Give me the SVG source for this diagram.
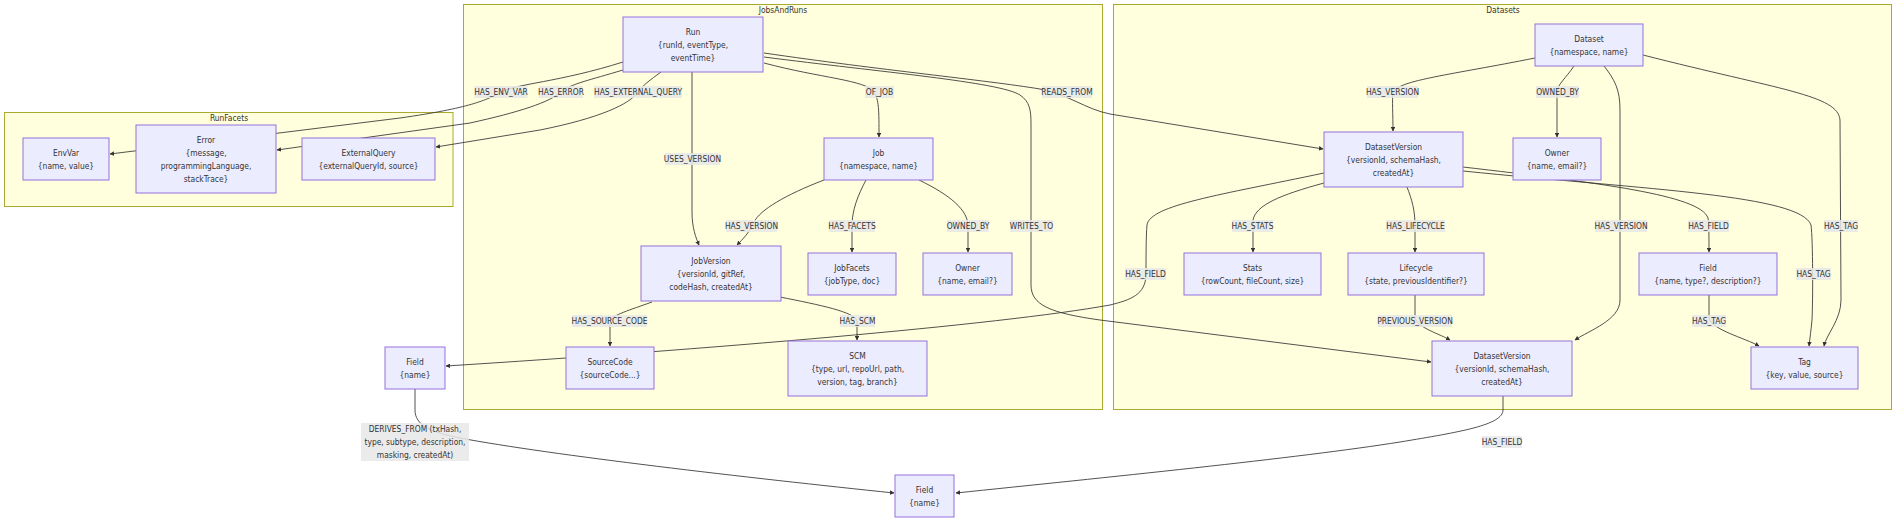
<svg xmlns="http://www.w3.org/2000/svg" width="1904" height="524" viewBox="0 0 1904 524">
<style>
text{font-family:'DejaVu Sans Condensed','DejaVu Sans',sans-serif;font-stretch:condensed;font-size:8.4px;fill:#333;text-anchor:middle;dominant-baseline:central}
.cluster rect{fill:#ffffde;stroke:#aaaa33;stroke-width:1}
.node rect{fill:#ececff;stroke:#9370db;stroke-width:1}
.edge{fill:none;stroke:#333;stroke-width:0.85;marker-end:url(#arr)}
.lbl rect{fill:#e8e8e8;opacity:0.85}
</style>
<defs>
<marker id="arr" viewBox="0 0 10 10" refX="9" refY="5" markerWidth="4.5" markerHeight="4.5" markerUnits="userSpaceOnUse" orient="auto"><path d="M0,0 L10,5 L0,10 z" fill="#333"/></marker>
</defs>
<rect width="1904" height="524" fill="#fff"/>
<g id="clusters">
<g id="c-runfacets" class="cluster"><rect x="4.5" y="112.5" width="448.5" height="94"/><text x="229" y="118">RunFacets</text></g>
<g id="c-jobsandruns" class="cluster"><rect x="463.5" y="4.5" width="639" height="405"/><text x="783" y="10">JobsAndRuns</text></g>
<g id="c-datasets" class="cluster"><rect x="1113.5" y="4.5" width="778" height="405"/><text x="1503" y="10">Datasets</text></g>
</g>
<g id="connectors">
<path class="edge" d="M623,62 C560,82 515,84 501,92 S470,108 400,118 L110,154"/>
<path class="edge" d="M623,70 C590,80 570,84 561,92 C550,102 520,112 470,123 L277,150"/>
<path class="edge" d="M661,72 C650,80 642,86 638,92 C630,104 600,118 540,130 L436,147"/>
<path class="edge" d="M764,63 C820,78 866,80 874,92 C879,100 879,110 879,137"/>
<path class="edge" d="M692,72 L692,212 C692,228 696,238 699,245"/>
<path class="edge" d="M764,53 C880,70 985,80 1040,89 C1070,95 1085,109 1110,114 L1323,149"/>
<path class="edge" d="M764,57 C880,72 1000,82 1020,95 C1030,102 1031,110 1031,125 L1031,285 C1031,305 1050,313 1100,320 L1431,362"/>
<path class="edge" d="M824,180 C785,195 760,210 754,222 C750,232 742,240 737,245"/>
<path class="edge" d="M866,180 C858,195 852,210 852,226 L852,252"/>
<path class="edge" d="M919,180 C950,195 968,210 968,226 L968,252"/>
<path class="edge" d="M652,302 C630,310 612,315 610,321 L610,346"/>
<path class="edge" d="M780,297 C820,305 855,312 857,321 L857,340"/>
<path class="edge" d="M1324,173 C1220,195 1150,205 1147,225 C1146,235 1146,260 1146,274 C1146,295 1130,300 1110,305 C1000,325 700,350 446,366"/>
<path class="edge" d="M1324,183 C1280,195 1256,205 1253,220 L1253,252"/>
<path class="edge" d="M1407,187 C1412,200 1415,210 1415,226 L1415,252"/>
<path class="edge" d="M1463,167 C1600,183 1700,195 1708,218 C1709,222 1709,240 1709,252"/>
<path class="edge" d="M1463,171 C1650,190 1800,195 1811,225 C1813,240 1813,300 1812,320 C1811,330 1810,338 1809,346"/>
<path class="edge" d="M1535,58 C1450,75 1400,80 1393,92 C1392,100 1393,115 1393,131"/>
<path class="edge" d="M1574,66 C1566,78 1557,85 1557,92 L1557,137"/>
<path class="edge" d="M1604,66 C1615,80 1620,90 1620,110 L1620,300 C1620,320 1590,330 1575,340"/>
<path class="edge" d="M1643,55 C1780,90 1838,95 1840,120 L1841,300 C1841,320 1826,335 1824,346"/>
<path class="edge" d="M1709,295 L1709,318 C1712,330 1745,338 1759,346"/>
<path class="edge" d="M1415,295 L1415,318 C1418,328 1440,334 1450,340"/>
<path class="edge" d="M1503,396 L1503,410 C1503,425 1460,432 1400,442 C1300,458 1100,478 956,493"/>
<path class="edge" d="M415,389 L415,410 C415,425 430,432 460,438 C550,455 750,478 894,493"/>
</g>
<g id="edge-labels">
<g class="lbl"><rect x="474.5" y="86" width="53" height="12"/><text x="501" y="92">HAS_ENV_VAR</text></g>
<g class="lbl"><rect x="539" y="86" width="44" height="12"/><text x="561" y="92">HAS_ERROR</text></g>
<g class="lbl"><rect x="594" y="86" width="88" height="12"/><text x="638" y="92">HAS_EXTERNAL_QUERY</text></g>
<g class="lbl"><rect x="665" y="153" width="55" height="12"/><text x="692.5" y="159">USES_VERSION</text></g>
<g class="lbl"><rect x="865" y="86" width="29" height="12"/><text x="879.5" y="92">OF_JOB</text></g>
<g class="lbl"><rect x="1042" y="86" width="50" height="12"/><text x="1067" y="92">READS_FROM</text></g>
<g class="lbl"><rect x="1367" y="86" width="51" height="12"/><text x="1392.5" y="92">HAS_VERSION</text></g>
<g class="lbl"><rect x="1536" y="86" width="43" height="12"/><text x="1557.5" y="92">OWNED_BY</text></g>
<g class="lbl"><rect x="726" y="220" width="51" height="12"/><text x="751.5" y="226">HAS_VERSION</text></g>
<g class="lbl"><rect x="829" y="220" width="46" height="12"/><text x="852" y="226">HAS_FACETS</text></g>
<g class="lbl"><rect x="947" y="220" width="42" height="12"/><text x="968" y="226">OWNED_BY</text></g>
<g class="lbl"><rect x="1010" y="220" width="43" height="12"/><text x="1031.5" y="226">WRITES_TO</text></g>
<g class="lbl"><rect x="572" y="315" width="75" height="12"/><text x="609.5" y="321">HAS_SOURCE_CODE</text></g>
<g class="lbl"><rect x="840" y="315" width="35" height="12"/><text x="857.5" y="321">HAS_SCM</text></g>
<g class="lbl"><rect x="1125" y="268" width="41" height="12"/><text x="1145.5" y="274">HAS_FIELD</text></g>
<g class="lbl"><rect x="1232" y="220" width="41" height="12"/><text x="1252.5" y="226">HAS_STATS</text></g>
<g class="lbl"><rect x="1386" y="220" width="59" height="12"/><text x="1415.5" y="226">HAS_LIFECYCLE</text></g>
<g class="lbl"><rect x="1595" y="220" width="52" height="12"/><text x="1621" y="226">HAS_VERSION</text></g>
<g class="lbl"><rect x="1688" y="220" width="41" height="12"/><text x="1708.5" y="226">HAS_FIELD</text></g>
<g class="lbl"><rect x="1824" y="220" width="34" height="12"/><text x="1841" y="226">HAS_TAG</text></g>
<g class="lbl"><rect x="1796" y="268" width="35" height="12"/><text x="1813.5" y="274">HAS_TAG</text></g>
<g class="lbl"><rect x="1378" y="315" width="74" height="12"/><text x="1415" y="321">PREVIOUS_VERSION</text></g>
<g class="lbl"><rect x="1692" y="315" width="34" height="12"/><text x="1709" y="321">HAS_TAG</text></g>
<g class="lbl"><rect x="1482" y="436" width="40" height="12"/><text x="1502" y="442">HAS_FIELD</text></g>
<g class="lbl"><rect x="361" y="423" width="108" height="38"/><text x="415" y="429">DERIVES_FROM (txHash,</text><text x="415" y="442">type, subtype, description,</text><text x="415" y="455">masking, createdAt)</text></g>
</g>
<g id="nodes">
<g id="n-envvar" class="node"><rect x="23" y="138" width="86" height="42"/><text x="66" y="152.5">EnvVar</text><text x="66" y="165.5">{name, value}</text></g>
<g id="n-error" class="node"><rect x="136" y="125" width="140" height="68"/><text x="206" y="139.5">Error</text><text x="206" y="152.5">{message,</text><text x="206" y="165.5">programmingLanguage,</text><text x="206" y="178.5">stackTrace}</text></g>
<g id="n-externalquery" class="node"><rect x="302" y="138" width="133" height="42"/><text x="368.5" y="152.5">ExternalQuery</text><text x="368.5" y="165.5">{externalQueryId, source}</text></g>
<g id="n-run" class="node"><rect x="623" y="17" width="140" height="55"/><text x="693" y="31.5">Run</text><text x="693" y="44.5">{runId, eventType,</text><text x="693" y="57.5">eventTime}</text></g>
<g id="n-job" class="node"><rect x="824" y="138" width="109" height="42"/><text x="878.5" y="152.5">Job</text><text x="878.5" y="165.5">{namespace, name}</text></g>
<g id="n-jobversion" class="node"><rect x="641" y="246" width="140" height="55"/><text x="711" y="260.5">JobVersion</text><text x="711" y="273.5">{versionId, gitRef,</text><text x="711" y="286.5">codeHash, createdAt}</text></g>
<g id="n-jobfacets" class="node"><rect x="808" y="253" width="88" height="42"/><text x="852" y="267.5">JobFacets</text><text x="852" y="280.5">{jobType, doc}</text></g>
<g id="n-owner-job" class="node"><rect x="923" y="253" width="89" height="42"/><text x="967.5" y="267.5">Owner</text><text x="967.5" y="280.5">{name, email?}</text></g>
<g id="n-field-left" class="node"><rect x="385" y="347" width="60" height="42"/><text x="415" y="361.5">Field</text><text x="415" y="374.5">{name}</text></g>
<g id="n-sourcecode" class="node"><rect x="566" y="347" width="88" height="42"/><text x="610" y="361.5">SourceCode</text><text x="610" y="374.5">{sourceCode...}</text></g>
<g id="n-scm" class="node"><rect x="788" y="341" width="139" height="55"/><text x="857.5" y="355.5">SCM</text><text x="857.5" y="368.5">{type, url, repoUrl, path,</text><text x="857.5" y="381.5">version, tag, branch}</text></g>
<g id="n-dataset" class="node"><rect x="1535" y="24" width="108" height="42"/><text x="1589" y="38.5">Dataset</text><text x="1589" y="51.5">{namespace, name}</text></g>
<g id="n-datasetversion-top" class="node"><rect x="1324" y="132" width="139" height="55"/><text x="1393.5" y="146.5">DatasetVersion</text><text x="1393.5" y="159.5">{versionId, schemaHash,</text><text x="1393.5" y="172.5">createdAt}</text></g>
<g id="n-owner-ds" class="node"><rect x="1513" y="138" width="88" height="42"/><text x="1557" y="152.5">Owner</text><text x="1557" y="165.5">{name, email?}</text></g>
<g id="n-stats" class="node"><rect x="1184" y="253" width="137" height="42"/><text x="1252.5" y="267.5">Stats</text><text x="1252.5" y="280.5">{rowCount, fileCount, size}</text></g>
<g id="n-lifecycle" class="node"><rect x="1348" y="253" width="136" height="42"/><text x="1416" y="267.5">Lifecycle</text><text x="1416" y="280.5">{state, previousIdentifier?}</text></g>
<g id="n-field-ds" class="node"><rect x="1639" y="253" width="138" height="42"/><text x="1708" y="267.5">Field</text><text x="1708" y="280.5">{name, type?, description?}</text></g>
<g id="n-datasetversion-bottom" class="node"><rect x="1432" y="341" width="140" height="55"/><text x="1502" y="355.5">DatasetVersion</text><text x="1502" y="368.5">{versionId, schemaHash,</text><text x="1502" y="381.5">createdAt}</text></g>
<g id="n-tag" class="node"><rect x="1751" y="347" width="107" height="42"/><text x="1804.5" y="361.5">Tag</text><text x="1804.5" y="374.5">{key, value, source}</text></g>
<g id="n-field-bottom" class="node"><rect x="895" y="475" width="59" height="42"/><text x="924.5" y="489.5">Field</text><text x="924.5" y="502.5">{name}</text></g>
</g>
</svg>
